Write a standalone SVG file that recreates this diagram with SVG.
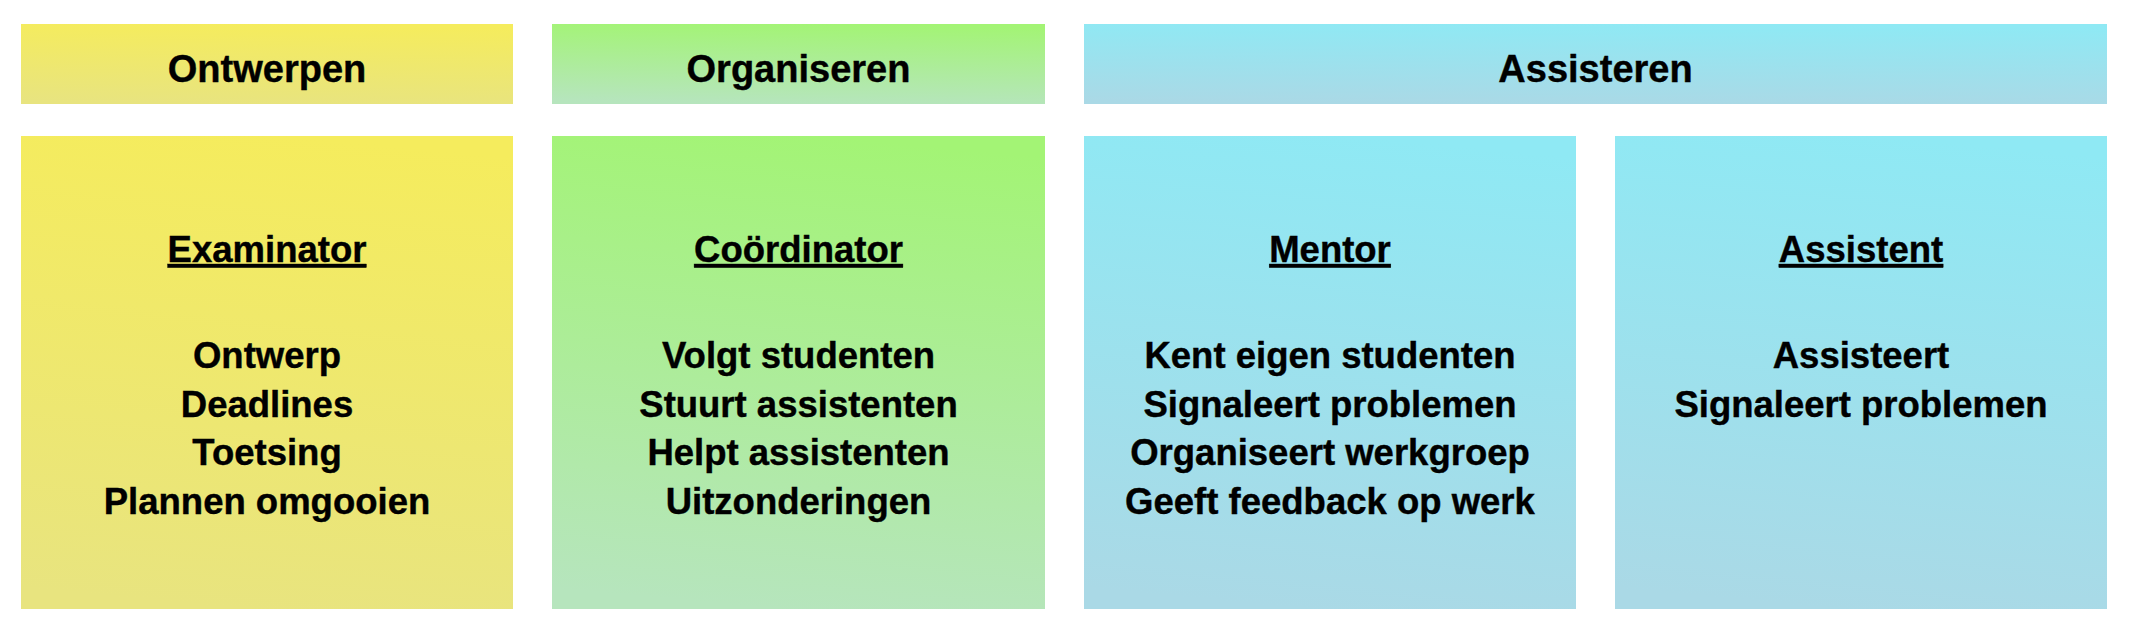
<svg xmlns="http://www.w3.org/2000/svg" width="2130" height="630" viewBox="0 0 2130 630">
  <defs>
    <linearGradient id="gy" x1="0.55" y1="0" x2="0.45" y2="1">
      <stop offset="0" stop-color="#f5ec5d"/>
      <stop offset="1" stop-color="#e8e47f"/>
    </linearGradient>
    <linearGradient id="gg" x1="0.55" y1="0" x2="0.45" y2="1">
      <stop offset="0" stop-color="#a3f475"/>
      <stop offset="1" stop-color="#b6e5bd"/>
    </linearGradient>
    <linearGradient id="gc" x1="0.55" y1="0" x2="0.45" y2="1">
      <stop offset="0" stop-color="#8fe9f4"/>
      <stop offset="1" stop-color="#aad9e6"/>
    </linearGradient>
    <style>
      text { font-family: "Liberation Sans", Arial, sans-serif; font-weight: bold; fill: #000; text-anchor: middle; stroke: #000; stroke-width: 0.4px; }
      .h { font-size: 38px; }
      .t { font-size: 36.5px; text-decoration: underline; }
      .b { font-size: 36.5px; }
    </style>
  </defs>
  <rect width="2130" height="630" fill="#ffffff"/>

  <g id="header-ontwerpen">
    <rect x="21" y="24" width="492" height="80" fill="url(#gy)"/>
    <text class="h" x="267" y="81.5">Ontwerpen</text>
  </g>
  <g id="header-organiseren">
    <rect x="552" y="24" width="493" height="80" fill="url(#gg)"/>
    <text class="h" x="798.5" y="81.5">Organiseren</text>
  </g>
  <g id="header-assisteren">
    <rect x="1084" y="24" width="1023" height="80" fill="url(#gc)"/>
    <text class="h" x="1595.5" y="81.5">Assisteren</text>
  </g>

  <g id="node-examinator">
    <rect x="21" y="136" width="492" height="473" fill="url(#gy)"/>
    <text class="t" x="267" y="262">Examinator</text>
    <text class="b" x="267" y="368">Ontwerp</text>
    <text class="b" x="267" y="416.5">Deadlines</text>
    <text class="b" x="267" y="465">Toetsing</text>
    <text class="b" x="267" y="513.5">Plannen omgooien</text>
  </g>
  <g id="node-coordinator">
    <rect x="552" y="136" width="493" height="473" fill="url(#gg)"/>
    <text class="t" x="798.5" y="262">Coördinator</text>
    <text class="b" x="798.5" y="368">Volgt studenten</text>
    <text class="b" x="798.5" y="416.5">Stuurt assistenten</text>
    <text class="b" x="798.5" y="465">Helpt assistenten</text>
    <text class="b" x="798.5" y="513.5">Uitzonderingen</text>
  </g>
  <g id="node-mentor">
    <rect x="1084" y="136" width="492" height="473" fill="url(#gc)"/>
    <text class="t" x="1330" y="262">Mentor</text>
    <text class="b" x="1330" y="368">Kent eigen studenten</text>
    <text class="b" x="1330" y="416.5">Signaleert problemen</text>
    <text class="b" x="1330" y="465">Organiseert werkgroep</text>
    <text class="b" x="1330" y="513.5">Geeft feedback op werk</text>
  </g>
  <g id="node-assistent">
    <rect x="1615" y="136" width="492" height="473" fill="url(#gc)"/>
    <text class="t" x="1861" y="262">Assistent</text>
    <text class="b" x="1861" y="368">Assisteert</text>
    <text class="b" x="1861" y="416.5">Signaleert problemen</text>
  </g>

  <g id="connectors"></g>
</svg>
